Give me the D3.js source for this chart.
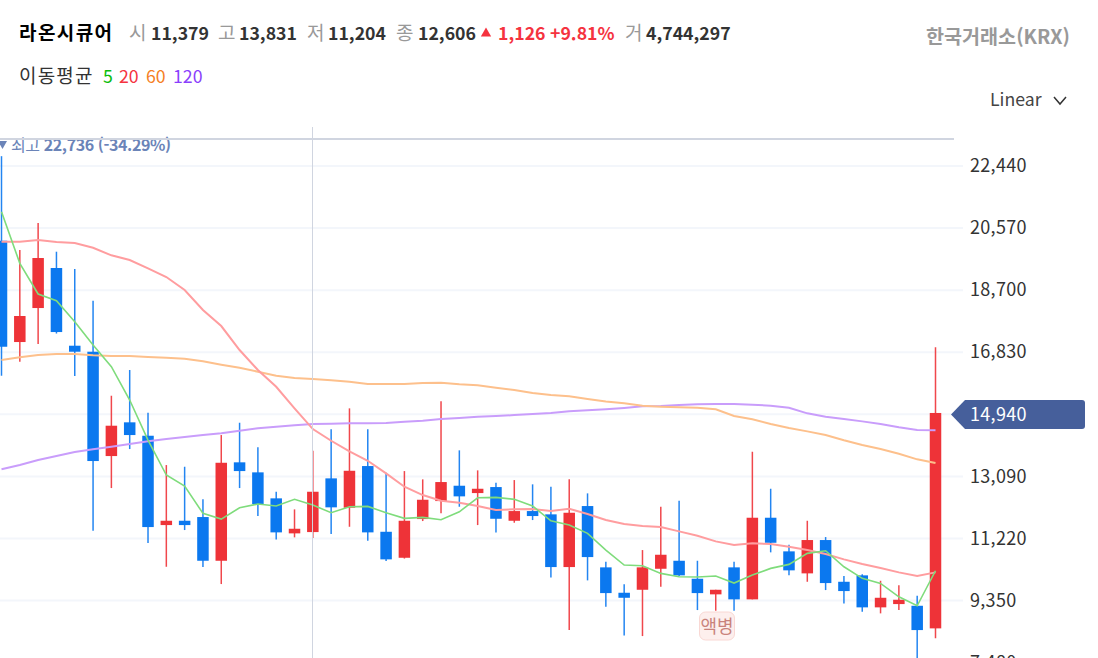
<!DOCTYPE html>
<html lang="ko">
<head>
    <meta charset="UTF-8">
    <title>라온시큐어</title>
    <script src="https://d3js.org/d3.v7.min.js"></script>
    <style>
        html, body { margin: 0; padding: 0; background: #fff; overflow: hidden; }
        svg { display: block; }
        text { font-family: "Noto Sans CJK KR", "Noto Sans", sans-serif; }
        .axis path, .axis line { display: none; }
    </style>
</head>
<body>
<script type="text/javascript">
const opens = [20189,17137,18161,19367,17026,16845,13702,14718,14314,11623,11753,11865,10548,13513,13211,12428,11373,11412,13030,12145,13401,11421,10638,11804,12346,12808,12587,12768,11753,12045,11946,10358,12196,10349,9584,9674,10307,10548,10006,9536,10349,9385,11844,10831,10168,11172,9915,10108,9144,9243,9192,8511];
const highs = [22736,19909,20723,19858,19337,18382,15519,16294,15007,13431,13380,12398,14335,14706,13964,12627,12096,13862,14507,15139,14507,13199,13250,13000,15350,13874,13271,12898,12979,12850,12778,13000,12578,10518,9837,10870,12175,12356,10548,9674,10518,13832,12717,11030,11753,11262,10087,10138,9945,9807,9493,16978];
const lows = [16122,16544,17077,17393,16113,11452,12738,13913,11081,10367,11473,10358,9846,12738,11895,11192,11253,11232,11352,11572,11150,10539,10614,11744,11976,12175,11623,11403,11693,11774,10047,8460,9957,9162,8300,8279,9765,10087,9063,9042,9042,9385,10801,10108,9915,9665,9264,9011,8963,9063,7500,8210];
const closes = [16995,17921,19668,17438,16845,13552,14616,14335,11563,11753,11623,10548,13500,13250,12256,11403,11512,12627,12157,13259,11403,10590,11753,12386,12919,12488,12717,11813,12045,11895,10358,11994,10659,9574,9433,10349,10729,10108,9574,9674,9385,11844,11090,10259,11172,9876,9635,9144,9433,9373,8460,15000];

const ma5 = [21063,19508,18583,18381,17749,17047,16393,15390,14184,13130,12798,11976,11804,12145,12256,12196,12398,12226,11994,12175,12186,11994,11825,11855,11783,12024,12446,12458,12398,12196,11753,11623,11373,10870,10418,10397,10168,10066,10057,10087,9876,10117,10318,10439,10771,10849,10367,10017,9867,9463,9192,10247];
const ma20 = [20159,20159,20210,20150,20120,19978,19749,19608,19358,19095,18704,18101,17619,16896,16294,15790,15139,14516,14163,13844,13560,13181,12778,12527,12356,12295,12196,12075,12096,12105,12045,12115,11955,11774,11653,11593,11563,11433,11301,11132,11021,11072,11051,10970,10870,10750,10590,10448,10328,10198,10087,10198];
const ma60 = [16595,16676,16745,16775,16775,16736,16715,16715,16685,16664,16634,16555,16453,16362,16242,16121,16052,16022,15983,15941,15872,15872,15872,15902,15911,15862,15832,15760,15691,15600,15540,15501,15420,15344,15290,15218,15188,15170,15158,15110,14908,14808,14666,14546,14446,14335,14176,14034,13913,13771,13603,13491];
const ma120 = [13302,13431,13582,13702,13822,13904,13982,14064,14145,14214,14275,14335,14386,14465,14537,14585,14627,14666,14675,14687,14687,14697,14736,14766,14817,14847,14886,14907,14938,14968,14998,15049,15079,15109,15149,15200,15209,15239,15260,15269,15269,15248,15218,15158,14989,14886,14817,14747,14666,14567,14486,14477];

const yTicks = [22440,20570,18700,16830,14960,13090,11220,9350,7480];
const maLabels = ['5','20','60','120'];
const maColors = ['#0cbd0c','#f5333f','#f5801f','#8a3ffc'];
const lineColors = ['#7fdc7c','#ff9d9f','#fdc08c','#c99dfb'];
const currentPrice = 14940;

const width = 1098;
const height = 658;
const red = '#ee3338';
const blue = '#0b78ef';

const svg = d3.select('body')
    .append('svg')
    .attr('width', width)
    .attr('height', height);

const x = d3.scaleLinear().domain([0, closes.length - 1]).range([1.5, 935.5]);
const y = d3.scaleLinear().domain([22440, 7480]).range([166, 662.6]);
const bodyWidth = 11.5;

// grid
svg.append('g').selectAll('line')
    .data(yTicks)
    .enter()
    .append('line')
    .attr('x1', 0)
    .attr('x2', 963)
    .attr('y1', d => y(d))
    .attr('y2', d => y(d))
    .attr('stroke', '#f3f6fb')
    .attr('stroke-width', 2);

// candles
const candles = svg.append('g').selectAll('g')
    .data(closes.map((c, i) => i))
    .enter()
    .append('g')
    .attr('fill', i => closes[i] >= opens[i] ? red : blue)
    .attr('stroke', i => closes[i] >= opens[i] ? red : blue);

candles.append('line')
    .attr('x1', i => x(i))
    .attr('x2', i => x(i))
    .attr('y1', i => y(highs[i]))
    .attr('y2', i => y(lows[i]))
    .attr('stroke-width', 1.5)
    .attr('stroke-opacity', 0.9);

candles.append('rect')
    .attr('x', i => x(i) - bodyWidth / 2)
    .attr('width', bodyWidth)
    .attr('y', i => y(Math.max(opens[i], closes[i])))
    .attr('height', i => Math.abs(y(opens[i]) - y(closes[i])))
    .attr('stroke', 'none');

// moving averages
const line = d3.line().x((d, i) => x(i)).y(d => y(d));
[ma120, ma60, ma20, ma5].forEach((series, k) => {
    svg.append('path')
        .attr('d', line(series))
        .attr('fill', 'none')
        .attr('stroke', lineColors[3 - k])
        .attr('stroke-width', k === 3 ? 1.6 : 2);
});

// crosshair
svg.append('line')
    .attr('x1', 312.5).attr('x2', 312.5)
    .attr('y1', 127).attr('y2', height)
    .attr('stroke', '#d0d5e0')
    .attr('stroke-width', 1);

// axis labels
const axis = d3.axisRight(y)
    .tickValues(yTicks.filter(d => d !== 14960))
    .tickSize(0)
    .tickPadding(0)
    .tickFormat(d3.format(','));

svg.append('g')
    .attr('class', 'axis')
    .attr('transform', 'translate(970,0)')
    .call(axis)
    .call(g => g.selectAll('text')
        .style('font-family', '"Noto Sans CJK KR", "Noto Sans", sans-serif')
        .style('font-size', '18px')
        .style('letter-spacing', '0.3px')
        .attr('fill', '#333'));

// current price label
const py = y(currentPrice) - 0.5;
svg.append('path')
    .attr('d', `M951,${py} L965,${py - 14.5} L1082,${py - 14.5} Q1085,${py - 14.5} 1085,${py - 11.5} L1085,${py + 11.5} Q1085,${py + 14.5} 1082,${py + 14.5} L965,${py + 14.5} Z`)
    .attr('fill', '#465f9b');
svg.append('text')
    .attr('x', 970)
    .attr('y', py + 6.5)
    .attr('fill', '#fff')
    .style('font-size', '18px')
    .style('letter-spacing', '0.3px')
    .text(d3.format(',')(currentPrice));

// high marker, sits right under the top rule
svg.append('path')
    .attr('d', 'M-2,141 L7,141 L2.5,149 Z')
    .attr('fill', '#6b84b8');
const highLabel = svg.append('text')
    .attr('x', 11)
    .attr('y', 151)
    .attr('fill', '#6b84b8')
    .style('font-size', '16px')
    .style('letter-spacing', '-0.4px');
highLabel.append('tspan').text('최고 ').style('font-weight', 400);
highLabel.append('tspan').text('22,736 (-34.29%)').style('font-weight', 700);

svg.append('line')
    .attr('x1', 0).attr('x2', 954)
    .attr('y1', 139).attr('y2', 139)
    .attr('stroke', '#d0d5e0')
    .attr('stroke-width', 2);

// pattern badge
svg.append('rect')
    .attr('x', 699.5).attr('y', 612)
    .attr('width', 35).attr('height', 28)
    .attr('rx', 6)
    .attr('fill', '#fdefed')
    .attr('stroke', '#f9d8d4');
svg.append('text')
    .attr('x', 717).attr('y', 633)
    .attr('text-anchor', 'middle')
    .attr('fill', '#c9837c')
    .style('font-size', '18px')
    .text('액병');

// header
function label(px, py, str, size, weight, color, spacing) {
    return svg.append('text')
        .attr('x', px)
        .attr('y', py)
        .attr('fill', color)
        .style('font-size', size + 'px')
        .style('font-weight', weight)
        .style('letter-spacing', (spacing || 0) + 'px')
        .text(str);
}

const headerY = 40;
label(19, headerY, '라온시큐어', 19, 700, '#000', 1.4);
label(129, headerY, '시', 19, 400, '#999');
label(151, headerY, '11,379', 17.7, 700, '#333');
label(218, headerY, '고', 19, 400, '#999');
label(239, headerY, '13,831', 17.7, 700, '#333');
label(307, headerY, '저', 19, 400, '#999');
label(328, headerY, '11,204', 17.7, 700, '#333');
label(396, headerY, '종', 19, 400, '#999');
label(418, headerY, '12,606', 17.7, 700, '#333');
svg.append('path')
    .attr('d', d3.symbol().type(d3.symbolTriangle).size(46)())
    .attr('transform', 'translate(486,33.5)')
    .attr('fill', '#f5333f');
label(498, headerY, '1,126', 17.7, 700, '#f5333f');
label(550, headerY, '+9.81%', 17.7, 700, '#f5333f');
label(625, headerY, '거', 19, 400, '#999');
label(646, headerY, '4,744,297', 17.7, 700, '#333');
label(926, 44, '한국거래소(KRX)', 19.6, 700, '#999');

label(19, 83, '이동평균', 19, 400, '#333', 1.2);
const maX = [103, 119, 146, 173];
maLabels.forEach((t, i) => label(maX[i], 83, t, 17.7, 400, maColors[i]));

label(990, 106, 'Linear', 17.7, 400, '#444');
svg.append('path')
    .attr('d', 'M1054,97 L1060,104 L1066,97')
    .attr('fill', 'none')
    .attr('stroke', '#333')
    .attr('stroke-width', 1.5);
</script>
</body>
</html>
